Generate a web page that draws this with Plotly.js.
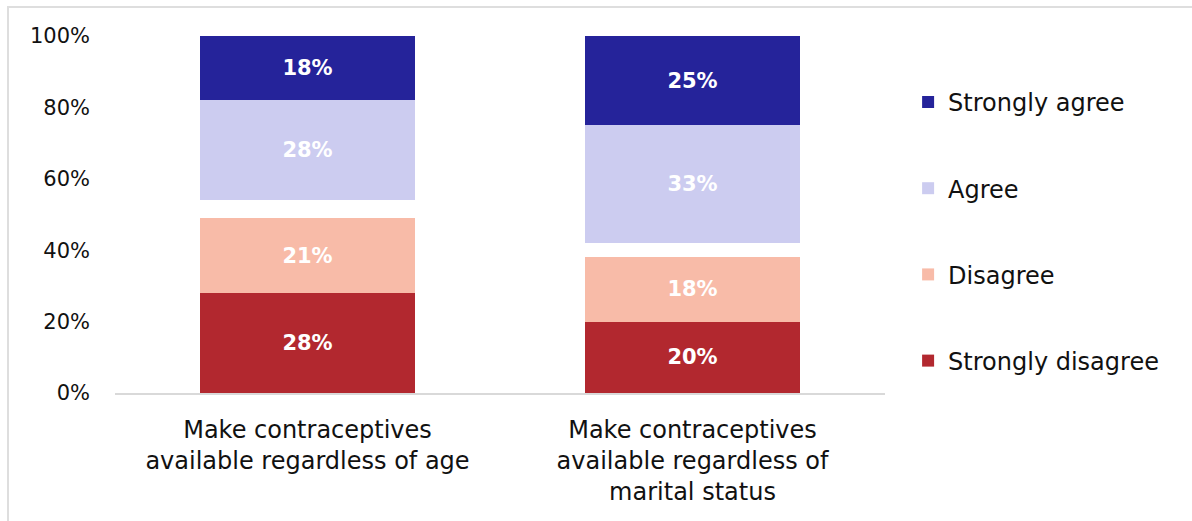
<!DOCTYPE html>
<html>
<head>
<meta charset="utf-8">
<script src="https://cdn.plot.ly/plotly-3.0.1.min.js"></script>
<style>
  html, body { margin: 0; padding: 0; background: #fff; }
  #wrap { position: relative; width: 1192px; height: 521px; overflow: hidden; }
  #chart { position: absolute; left: 0; top: 0; width: 1192px; height: 521px; }
  #frame { position: absolute; left: 7px; top: 6px; width: 1200px; height: 530px;
           border-left: 2px solid #dedede; border-top: 2px solid #dedede; pointer-events: none; }
</style>
</head>
<body>
<div id="wrap">
  <div id="chart"></div>
  <div id="frame"></div>
</div>
<script>
const categories = [
  "Make contraceptives<br>available regardless of age",
  "Make contraceptives<br>available regardless of<br>marital status"
];
const stronglyDisagree = [28, 20];
const disagree = [21, 18];
const neutral = [5, 4];
const agree = [28, 33];
const stronglyAgree = [18, 25];

const FONT = "DejaVu Sans, sans-serif";
const labelFont = { family: FONT, size: 21, color: "#ffffff", weight: "bold" };

function barTrace(name, vals, color, group, rank, showLabels) {
  return {
    type: "bar",
    name: name,
    x: categories,
    y: vals.map(v => v / 100),
    marker: { color: color, line: { width: 0 } },
    text: showLabels ? vals.map(v => "<b>" + v + "%</b>") : undefined,
    textposition: showLabels ? "inside" : "none",
    insidetextanchor: "middle",
    textfont: labelFont,
    hoverinfo: "skip",
    legendgroup: group,
    legendrank: rank,
    showlegend: showLabels,
    cliponaxis: false
  };
}

const data = [
  barTrace("Strongly disagree", stronglyDisagree, "#B2282F", "g1", 4, true),
  barTrace("Disagree", disagree, "#F8BBA8", "g2", 3, true),
  barTrace("Neutral", neutral, "rgba(0,0,0,0)", "g3", 5, false),
  barTrace("Agree", agree, "#CCCCF0", "g4", 2, true),
  barTrace("Strongly agree", stronglyAgree, "#25239A", "g5", 1, true)
];

const layout = {
  width: 1192,
  height: 521,
  margin: { l: 115, r: 307, t: 36, b: 128 },
  paper_bgcolor: "#ffffff",
  plot_bgcolor: "#ffffff",
  barmode: "stack",
  bargap: 0.444,
  font: { family: FONT, color: "#111111" },
  xaxis: {
    type: "category",
    showgrid: false,
    zeroline: false,
    showline: true,
    linecolor: "#d9d9d9",
    linewidth: 2,
    ticks: "",
    tickfont: { family: FONT, size: 24, color: "#111111" },
    ticklabelstandoff: 14
  },
  yaxis: {
    range: [0, 1],
    tickvals: [0, 0.2, 0.4, 0.6, 0.8, 1],
    ticktext: ["0%", "20%", "40%", "60%", "80%", "100%"],
    showgrid: false,
    zeroline: false,
    showline: false,
    ticks: "",
    tickfont: { family: FONT, size: 21, color: "#111111" },
    ticklabelstandoff: 24
  },
  legend: {
    x: 1.03,
    xanchor: "left",
    y: 0.877,
    yanchor: "top",
    traceorder: "grouped",
    tracegroupgap: 52,
    font: { family: FONT, size: 24, color: "#111111" },
    bgcolor: "rgba(0,0,0,0)"
  },
  showlegend: true
};

Plotly.newPlot("chart", data, layout, { displayModeBar: false, staticPlot: true });
</script>
</body>
</html>
